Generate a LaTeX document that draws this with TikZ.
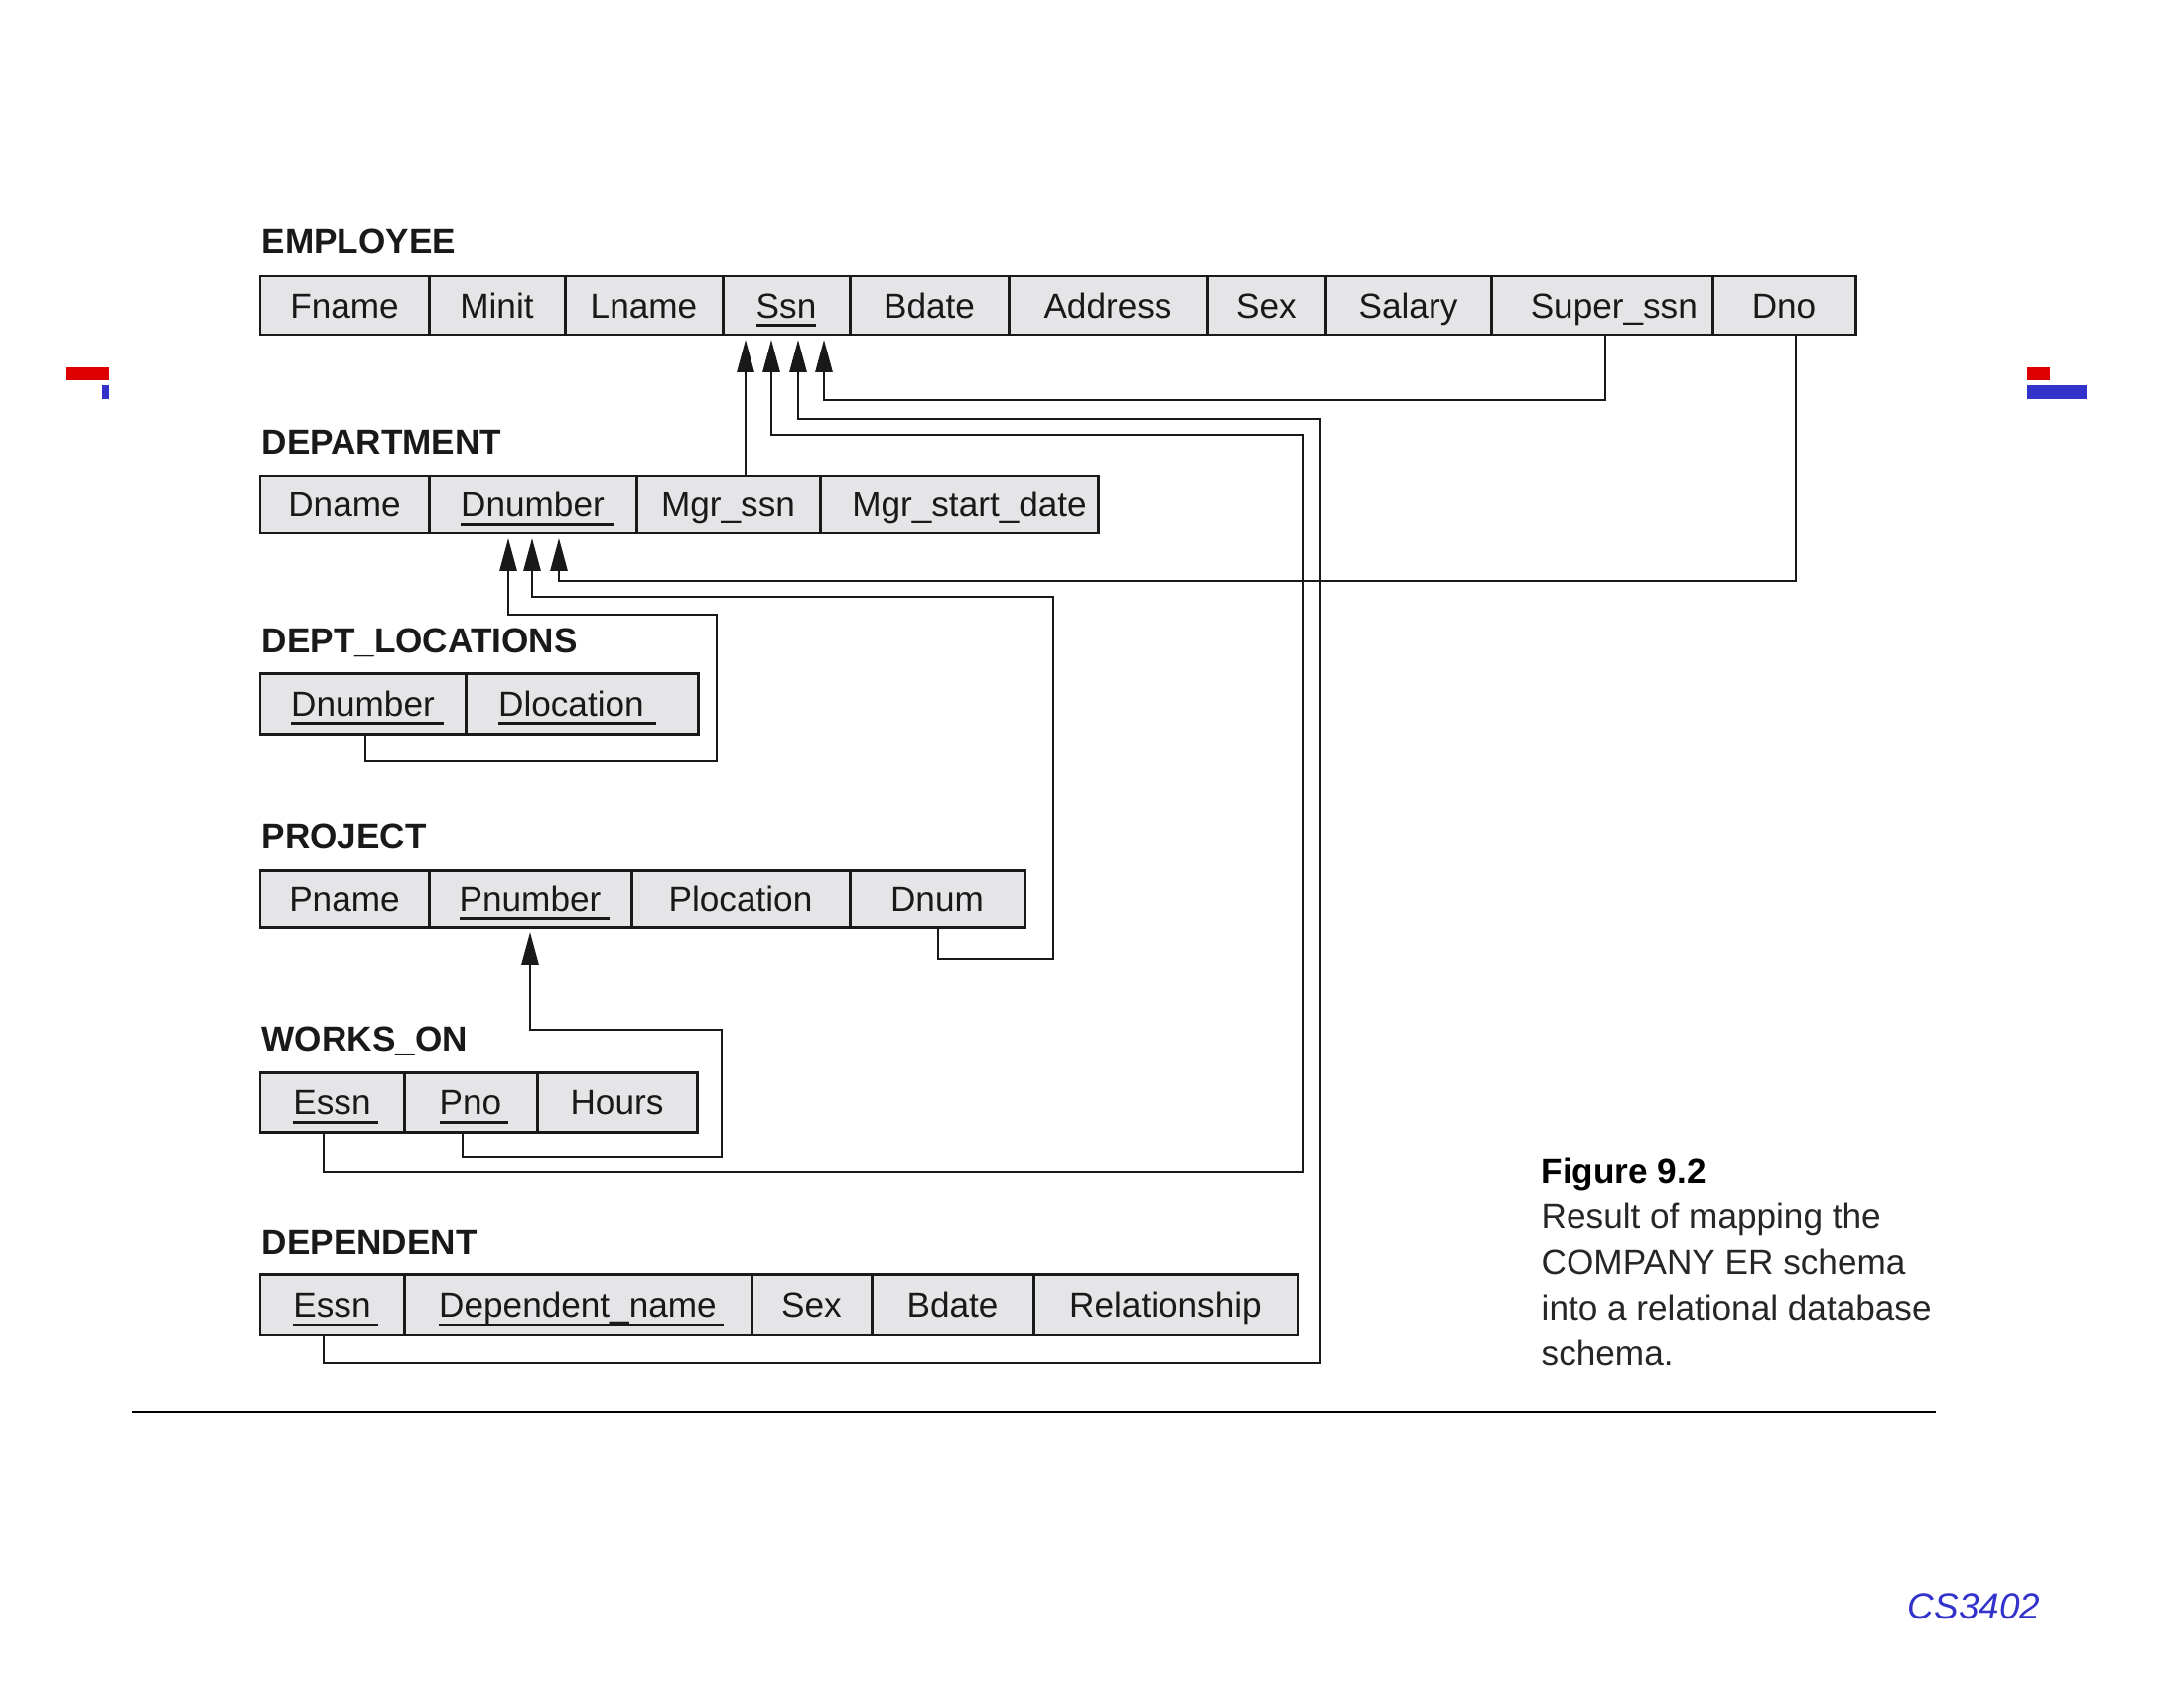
\documentclass[tikz,border=0pt]{standalone}
\usepackage{fontspec}
\setmainfont{Liberation Sans}
\usetikzlibrary{arrows.meta}
\definecolor{cellgray}{RGB}{229,229,232}
\definecolor{csblue}{RGB}{51,51,204}
\definecolor{markred}{RGB}{221,0,0}
\definecolor{ink}{RGB}{25,25,25}
\newsavebox\ukbox
\newcommand\ukey[2][2.5pt]{\sbox\ukbox{#2}\rlap{\rule[-2.6pt]{\dimexpr\wd\ukbox+#1\relax}{0.8pt}}\usebox\ukbox}
% name, x1, x2, y1, y2, text (pixel coordinates)
\newcommand\relcell[6]{\node[cellbox, minimum width={(#3-#2)*0.01cm}, minimum height={(#5-#4)*0.01cm}] (#1) at ({(#2+#3)/2},{(#4+#5)/2}) {#6};}
\begin{document}
\begin{tikzpicture}[x=0.01cm, y=-0.01cm,
  cellbox/.style={inner sep=0pt, outer sep=0pt, draw=ink, fill=cellgray, line width=0.85pt,
    font=\fontsize{10}{12}\selectfont, text=ink, text height=7.2pt, text depth=0pt},
  tname/.style={anchor=base west, inner sep=0pt, font=\fontsize{10}{12}\selectfont\bfseries, text=ink},
  link/.style={line width=0.8pt, draw=ink},
  fk/.style={link, -{Triangle[length=0.33cm,width=0.17cm]}, shorten >=1.4pt},
  captxt/.style={anchor=base west, inner sep=0pt, font=\fontsize{10}{12}\selectfont, text=black!85}
]
\useasboundingbox (0,0) rectangle (2200,1700);

% side marks
\fill[markred] (66,370) rectangle (110,383);
\fill[csblue] (103,388) rectangle (110,402);
\fill[markred] (2042,370) rectangle (2065,383);
\fill[csblue] (2042,388) rectangle (2102,402);

% EMPLOYEE
\node[tname] (lEmp) at (263,255) {EMPLOYEE};
\relcell{eFname}{262}{432}{278}{337}{Fname}
\relcell{eMinit}{432}{569}{278}{337}{Minit}
\relcell{eLname}{569}{728}{278}{337}{Lname}
\relcell{eSsn}{728}{856}{278}{337}{\ukey[0pt]{Ssn}}
\relcell{eBdate}{856}{1016}{278}{337}{Bdate}
\relcell{eAddress}{1016}{1216}{278}{337}{Address}
\relcell{eSex}{1216}{1335}{278}{337}{Sex}
\relcell{eSalary}{1335}{1502}{278}{337}{Salary}
\relcell{eSuper}{1502}{1725}{278}{337}{\hspace*{7pt}Super\_ssn}
\relcell{eDno}{1725}{1869}{278}{337}{Dno}

% DEPARTMENT
\node[tname] (lDep) at (263,457) {DEPARTMENT};
\relcell{dDname}{262}{432}{479}{537}{Dname}
\relcell{dDnum}{432}{641}{479}{537}{\ukey{Dnumber}}
\relcell{dMgr}{641}{826}{479}{537}{Mgr\_ssn}
\relcell{dStart}{826}{1106}{479}{537}{\hspace*{6pt}Mgr\_start\_date}

% DEPT_LOCATIONS
\node[tname] (lDL) at (263,657) {DEPT\_LOCATIONS};
\relcell{dlDnum}{262}{469}{678}{739}{\ukey{Dnumber}}
\relcell{dlLoc}{469}{703}{678}{739}{\hspace*{-6pt}\ukey[3.5pt]{Dlocation}}

% PROJECT
\node[tname] (lPro) at (263,854) {PROJECT};
\relcell{pPname}{262}{432}{876}{934}{Pname}
\relcell{pPnum}{432}{636}{876}{934}{\ukey{Pnumber}}
\relcell{pPloc}{636}{856}{876}{934}{Plocation}
\relcell{pDnum}{856}{1032}{876}{934}{Dnum}

% WORKS_ON
\node[tname] (lWO) at (263,1058) {WORKS\_ON};
\relcell{wEssn}{262}{407}{1080}{1140}{\ukey[2pt]{Essn}}
\relcell{wPno}{407}{541}{1080}{1140}{\ukey[2pt]{Pno}}
\relcell{wHours}{541}{702}{1080}{1140}{Hours}

% DEPENDENT
\node[tname] (lDpd) at (263,1263) {DEPENDENT};
\relcell{dpEssn}{262}{407}{1283}{1344}{\ukey[2pt]{Essn}}
\relcell{dpName}{407}{757}{1283}{1344}{\ukey[2pt]{Dependent\_name}}
\relcell{dpSex}{757}{878}{1283}{1344}{Sex}
\relcell{dpBdate}{878}{1041}{1283}{1344}{Bdate}
\relcell{dpRel}{1041}{1307}{1283}{1344}{Relationship}

% x positions for connectors
\coordinate (x326) at (326,0);
\coordinate (x368) at (368,0);
\coordinate (x466) at (466,0);
\coordinate (x512) at (512,0);
\coordinate (x534) at (534,0);
\coordinate (x536) at (536,0);
\coordinate (x563) at (563,0);
\coordinate (x751) at (751,0);
\coordinate (x777) at (777,0);
\coordinate (x804) at (804,0);
\coordinate (x830) at (830,0);
\coordinate (x945) at (945,0);
\coordinate (x1617) at (1617,0);
\coordinate (x1809) at (1809,0);

% foreign keys to EMPLOYEE.Ssn
\draw[fk] (dMgr.north -| x751) -- (eSsn.south -| x751);
\draw[fk] (wEssn.south -| x326) -- (326,1180) -- (1313,1180) -- (1313,438) -- (777,438) -- (eSsn.south -| x777);
\draw[fk] (dpEssn.south -| x326) -- (326,1373) -- (1330,1373) -- (1330,422) -- (804,422) -- (eSsn.south -| x804);
\draw[fk] (eSuper.south -| x1617) -- (1617,403) -- (830,403) -- (eSsn.south -| x830);

% foreign keys to DEPARTMENT.Dnumber
\draw[fk] (eDno.south -| x1809) -- (1809,585) -- (563,585) -- (dDnum.south -| x563);
\draw[fk] (pDnum.south -| x945) -- (945,966) -- (1061,966) -- (1061,601) -- (536,601) -- (dDnum.south -| x536);
\draw[fk] (dlDnum.south -| x368) -- (368,766) -- (722,766) -- (722,619) -- (512,619) -- (dDnum.south -| x512);

% foreign key to PROJECT.Pnumber
\draw[fk] (wPno.south -| x466) -- (466,1165) -- (727,1165) -- (727,1037) -- (534,1037) -- (pPnum.south -| x534);

% rule
\draw[line width=0.6pt] (133,1422) -- (1950,1422);

% caption
\node[captxt, font=\fontsize{10}{12}\selectfont\bfseries, text=black] (cap0) at (1552,1191) {Figure 9.2};
\node[captxt] (cap1) at (1552,1237) {Result of mapping the};
\node[captxt] (cap2) at (1552,1283) {COMPANY ER schema};
\node[captxt] (cap3) at (1552,1329) {into a relational database};
\node[captxt] (cap4) at (1552,1375) {schema.};

\node[anchor=base west, inner sep=0pt, font=\fontsize{10.5}{12}\selectfont\itshape, text=csblue] (cs) at (1921,1630) {CS3402};
\end{tikzpicture}
\end{document}
